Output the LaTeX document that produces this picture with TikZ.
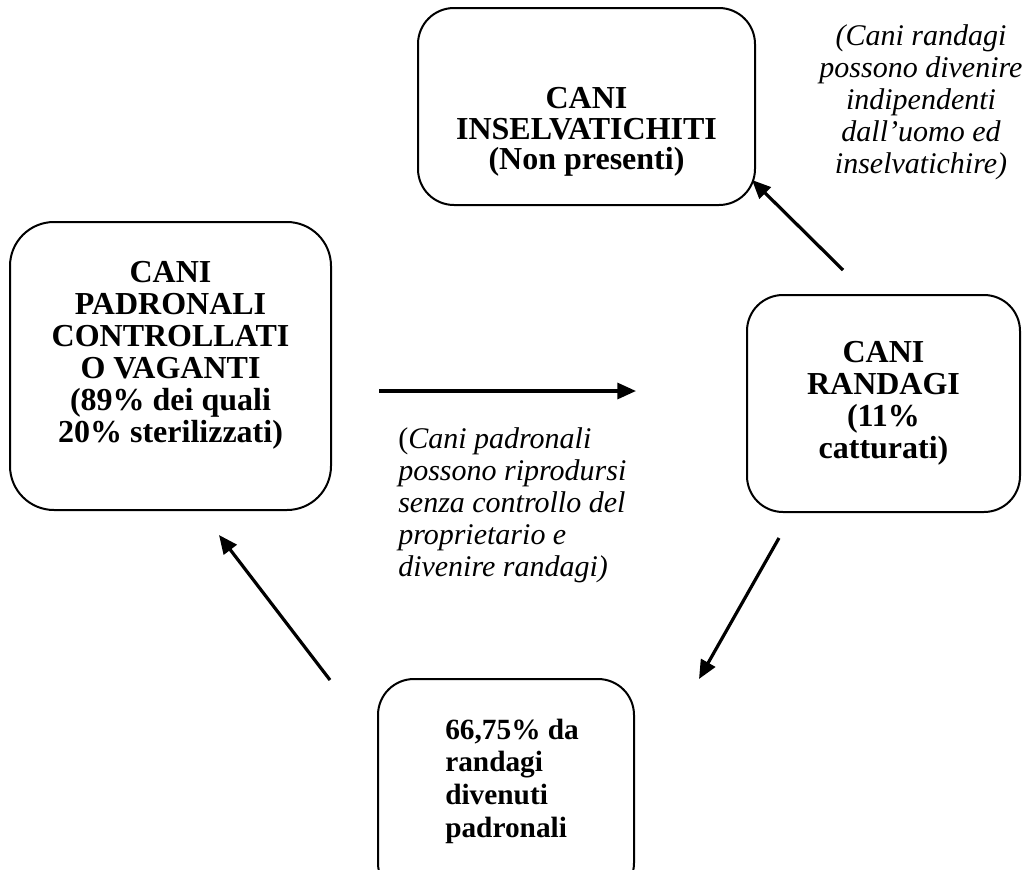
\documentclass[tikz,border=0pt]{standalone}
\usepackage{fontspec}
\setmainfont{Liberation Serif}
\usetikzlibrary{arrows.meta}
\newcommand{\pxu}{0.75pt}
\tikzset{
  box/.style={draw, line width=1.5pt, rounded corners=27pt, inner sep=0pt},
  testo/.style={align=center, inner sep=0pt, font=\fontsize{24}{24}\selectfont\bfseries},
  freccia/.style={line width=2.4pt, -{Triangle[length=14pt,width=12pt]}},
  nota/.style={inner sep=0pt, font=\fontsize{22.5}{24}\selectfont\itshape}
}
\begin{document}
\begin{tikzpicture}[x=0.75pt, y=-0.75pt]
        \useasboundingbox (0,0) rectangle (1026,869);
        \clip (0,0) rectangle (1026,869);

        \node[box, minimum width=337*\pxu, minimum height=197*\pxu] (insel) at (586.5,106.5) {};
        \node[box, rounded corners=33pt, minimum width=321*\pxu, minimum height=288*\pxu] (padr) at (170.5,366) {};
        \node[box, minimum width=273*\pxu, minimum height=217*\pxu] (rand) at (883.5,403.5) {};
        \node[box, minimum width=256*\pxu, minimum height=220*\pxu] (recup) at (506,789) {};

        \node[testo, font=\fontsize{24}{23}\selectfont\bfseries] (inseltxt) at ([yshift=-25.5*\pxu]insel.center)
          {CANI\\INSELVATICHITI\\(Non presenti)};
        \node[testo] (padrtxt) at ([yshift=11*\pxu]padr.center)
          {CANI\\PADRONALI\\CONTROLLATI\\O VAGANTI\\(89\% dei quali\\20\% sterilizzati)};
        \node[testo] (randtxt) at (rand.center)
          {CANI\\RANDAGI\\(11\%\\catturati)};
        \node[testo, align=left, anchor=west, font=\fontsize{22}{24.5}\selectfont\bfseries] (recuptxt) at (445,781)
          {66,75\% da\\randagi\\divenuti\\padronali};

        \node[nota, align=center] (notainsel) at (921,102)
          {(Cani randagi\\possono divenire\\indipendenti\\dall’uomo ed\\inselvatichire)};
        \node[nota, align=left, anchor=west] (notapadr) at (398,505)
          {{\upshape(}Cani padronali\\possono riprodursi\\senza controllo del\\proprietario e\\divenire randagi)};

        \coordinate (pa) at (379,391);
        \coordinate (ra) at (636,391);
        \coordinate (rb) at (843,270);
        \coordinate (ib) at (752,180);
        \coordinate (rc) at (779,538);
        \coordinate (cc) at (699,679);
        \coordinate (cd) at (330,680);
        \coordinate (pd) at (219,535);

        \draw[freccia] (pa) -- (ra);
        \draw[freccia] (rb) -- (ib);
        \draw[freccia] (rc) -- (cc);
        \draw[freccia] (cd) -- (pd);
\end{tikzpicture}
\end{document}
